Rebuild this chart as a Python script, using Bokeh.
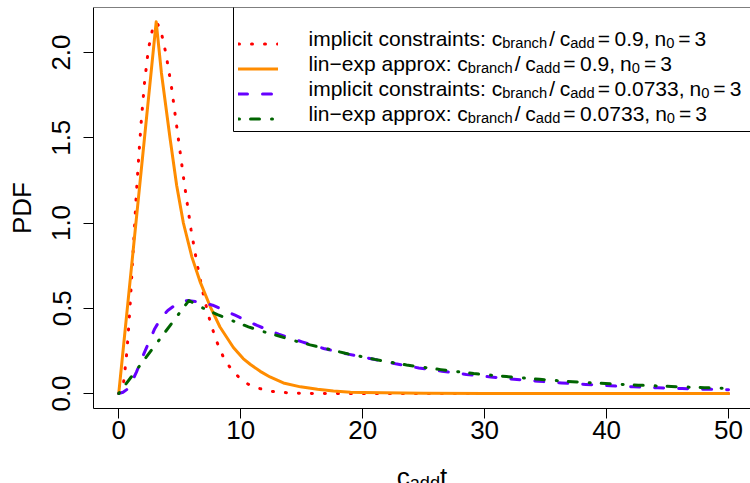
from bokeh.plotting import figure
from bokeh.layouts import column
from bokeh.models import (Range1d, FixedTicker, Label, Legend, LegendItem, Span,
                          BoxAnnotation)
from bokeh.embed import file_html
from bokeh.resources import INLINE

# ---------------- data ----------------
# implicit constraints, c_branch/c_add = 0.9 (red dotted)
x_red = [0, 0.2, 0.39, 0.61, 0.77, 0.96, 1.12, 1.29, 1.45, 1.64, 1.86, 2.11, 2.43, 2.84,
         3.1, 3.42, 3.85, 4.32, 4.84, 5.36, 5.93, 6.45, 7.0, 7.5, 8.0, 8.6, 9.2, 9.85,
         10.6, 11.55, 12.5, 13.5, 14.5, 16, 18, 30, 40, 50]
y_red = [0, 0.02, 0.06, 0.2, 0.34, 0.55, 0.76, 0.97, 1.18, 1.39, 1.61, 1.82, 2.02, 2.16,
         2.175, 2.14, 2.0, 1.8, 1.52, 1.24, 0.96, 0.75, 0.56, 0.42, 0.31, 0.21, 0.145, 0.095,
         0.055, 0.029, 0.013, 0.006, 0.002, 0.0005, 0, 0, 0, 0]
# lin-exp approx, c_branch/c_add = 0.9 (orange solid)
x_orange = [0, 3.07, 3.5, 4.2, 4.75, 5.3, 6.0, 6.7, 7.5, 8.3, 9.4, 10.2, 10.8, 11.6, 12.4,
            13.5, 14.9, 16.3, 17.6, 19.0, 20, 25, 30, 40, 50]
y_orange = [0, 2.18, 1.88, 1.50, 1.22, 1.0, 0.80, 0.65, 0.51, 0.39, 0.27, 0.205, 0.17, 0.13,
            0.097, 0.062, 0.039, 0.025, 0.015, 0.008, 0.006, 0.001, 0, 0, 0]
# implicit constraints, c_branch/c_add = 0.0733 (purple dashed)
x_purple = [0, 0.35, 0.7, 1.05, 1.45, 2.1, 2.95, 3.5, 4.02, 4.8, 5.6, 6.5, 7.7, 9.54, 11.34,
            13.11, 15.03, 16.8, 18.8, 20.9, 22.7, 24.6, 26.5, 28.5, 30.5, 32.4, 34.4, 36.3,
            38.3, 40.3, 42.2, 44.2, 46.2, 48.1, 50]
y_purple = [0, 0.007, 0.025, 0.065, 0.125, 0.24, 0.38, 0.445, 0.487, 0.527, 0.545, 0.538,
            0.518, 0.459, 0.399, 0.348, 0.303, 0.264, 0.231, 0.201, 0.174, 0.150, 0.131,
            0.112, 0.097, 0.084, 0.072, 0.062, 0.053, 0.045, 0.039, 0.033, 0.029, 0.025, 0.022]
# lin-exp approx, c_branch/c_add = 0.0733 (green dot-dash)
x_green = [0, 5.75, 6.89, 8.09, 9.35, 10.63, 11.89, 13.2, 14.48, 15.7, 18.58, 21.0, 23.6,
           26.4, 29.1, 31.8, 34.5, 37.2, 39.9, 42.6, 45.3, 48.0, 50]
y_green = [0, 0.545, 0.502, 0.463, 0.426, 0.391, 0.362, 0.336, 0.308, 0.285, 0.236, 0.200,
           0.167, 0.140, 0.117, 0.099, 0.083, 0.069, 0.058, 0.049, 0.041, 0.034, 0.030]

legend_prefixes = ["implicit constraints: ", "lin\u2212exp approx: ",
                   "implicit constraints: ", "lin\u2212exp approx: "]
legend_ratios = ["0.9", "0.9", "0.0733", "0.0733"]
legend_n0 = ["3", "3", "3", "3"]

x_ticks = [0, 10, 20, 30, 40, 50]
x_tick_labels = ["0", "10", "20", "30", "40", "50"]
y_ticks = [0.0, 0.5, 1.0, 1.5, 2.0]
y_tick_labels = ["0.0", "0.5", "1.0", "1.5", "2.0"]
y_label = "PDF"
x_label_parts = [("c", "n"), ("add", "s"), ("t", "n")]

# ---------------- layout / style ----------------
FONT = "Liberation Sans"
W, H = 750, 483
MAIN_H = 455                      # main figure; x-axis title strip below it
LEFT, TOP = 93, 7
FRAME_BOTTOM = 408
X_RANGE = (-2.07, 51.8)
Y_RANGE = (-0.088, 2.264)
SX = (W - LEFT) / (X_RANGE[1] - X_RANGE[0])           # px per x unit
SY = (FRAME_BOTTOM - TOP) / (Y_RANGE[1] - Y_RANGE[0])  # px per y unit

p = figure(width=W, height=MAIN_H, output_backend="svg", toolbar_location=None,
           x_range=Range1d(*X_RANGE), y_range=Range1d(*Y_RANGE),
           min_border_left=LEFT, min_border_right=0, min_border_top=TOP,
           min_border_bottom=MAIN_H - FRAME_BOTTOM,
           background_fill_alpha=0, border_fill_alpha=0)
p.outline_line_color = None
p.grid.visible = False

xa = p.xaxis[0]
xa.ticker = FixedTicker(ticks=x_ticks)
xa.major_label_overrides = {t: l for t, l in zip(x_ticks, x_tick_labels)}
ya = p.yaxis[0]
ya.ticker = FixedTicker(ticks=y_ticks)
ya.major_label_overrides = {t: l for t, l in zip(y_ticks, y_tick_labels)}
for ax in (xa, ya):
    ax.axis_line_color = "black"
    ax.axis_line_width = 1
    ax.major_tick_line_color = "black"
    ax.major_tick_out = 10
    ax.major_tick_in = 0
    ax.minor_tick_line_color = None
    ax.major_label_text_font = FONT
    ax.major_label_text_font_size = "26px"
    ax.major_label_text_color = "black"
xa.major_label_standoff = 2
ya.major_label_standoff = 13
ya.major_label_orientation = "vertical"
ya.axis_label = y_label
ya.axis_label_text_font = FONT
ya.axis_label_text_font_size = "26px"
ya.axis_label_text_font_style = "normal"
ya.axis_label_text_color = "black"
ya.axis_label_standoff = 13

p.add_layout(Span(location=Y_RANGE[1], dimension="width", line_color="black", line_width=1))

r_red = p.line(x_red, y_red, line_color="#FF0000", line_width=3, line_dash="1 12",
               line_cap="round", line_join="round")
r_orange = p.line(x_orange, y_orange, line_color="#FF8C00", line_width=3,
                  line_cap="round", line_join="round")
r_purple = p.line(x_purple, y_purple, line_color="#6600FF", line_width=3, line_dash="9 15",
                  line_cap="round", line_join="round")
r_green = p.line(x_green, y_green, line_color="#006400", line_width=3,
                 line_dash="1 11 9 12", line_cap="round", line_join="round")

# legend frame (box from x=233px, bottom at y=131px; top/right run past the frame edge)
p.add_layout(BoxAnnotation(left=X_RANGE[0] + (233 - LEFT) / SX,
                           bottom=Y_RANGE[0] + (FRAME_BOTTOM - 131) / SY,
                           right=X_RANGE[1] + 1, top=Y_RANGE[1] + 0.1,
                           fill_alpha=0, line_color="black", line_width=1, line_alpha=1))

legend = Legend(items=[LegendItem(label=" ", renderers=[r]) for r in
                       (r_red, r_orange, r_purple, r_green)],
                location=(145, 277), padding=12, spacing=0, margin=0,
                glyph_width=40, glyph_height=25, label_height=25, label_width=420,
                label_standoff=18, label_text_font_size="8px",
                border_line_color=None, background_fill_alpha=0)
p.add_layout(legend)

# ---------------- rich text (subscripts) ----------------
ADV = {" ": 278, "\u2212": 584, "-": 333, ".": 278, ",": 278, ":": 278, "/": 278, "=": 584,
       "a": 556, "b": 556, "c": 500, "d": 556, "e": 556, "f": 278, "g": 556, "h": 556,
       "i": 222, "j": 222, "k": 500, "l": 222, "m": 833, "n": 556, "o": 556, "p": 556,
       "q": 556, "r": 333, "s": 500, "t": 278, "u": 556, "v": 500, "w": 722, "x": 500,
       "y": 500, "z": 500, "P": 667, "D": 722, "F": 611}
SUB_SCALE, SUB_DROP = 0.7, 0.22


def adv(s, size):
    return sum(ADV.get(ch, 556) for ch in s) / 1000.0 * size


def layout_parts(parts, size):
    """Return (text, x, dy, font size) for each piece, x relative to the start."""
    out, x = [], 0.0
    for txt, kind in parts:
        if kind == "gap":
            x += txt
            continue
        fs = size if kind == "n" else size * SUB_SCALE
        dy = 0 if kind == "n" else size * SUB_DROP
        out.append((txt, x, dy, fs))
        x += adv(txt, fs)
    return out, x


LEG_SIZE = 21
for i, (pre, ratio, n0) in enumerate(zip(legend_prefixes, legend_ratios, legend_n0)):
    parts = [(pre, "n"), ("c", "n"), ("branch", "s"), (2, "gap"), ("/", "n"), (4.7, "gap"),
             ("c", "n"), ("add", "s"), (3, "gap"), ("=", "n"), (4.5, "gap"),
             (ratio + ",", "n"), (5, "gap"), ("n", "n"), ("0", "s"), (4, "gap"), ("=", "n"),
             (4, "gap"), (n0, "n")]
    pieces, _ = layout_parts(parts, LEG_SIZE)
    baseline = 38.2 + 25 * i
    for txt, x, dy, fs in pieces:
        p.add_layout(Label(x=X_RANGE[0], y=Y_RANGE[0], x_offset=308 + x - LEFT,
                           y_offset=FRAME_BOTTOM - (baseline + dy), text=txt.rstrip(),
                           text_font=FONT, text_font_size=f"{fs:.1f}px",
                           text_color="black", text_align="left",
                           text_baseline="alphabetic", level="overlay"))

# ---------------- x-axis title strip (c_add t) ----------------
# strip frame starts at the same left edge as the main frame; x data = page pixels,
# y data = pixels above the strip bottom.  No title, so the frame fills the strip.
STRIP_H = H - MAIN_H
q = figure(width=W, height=STRIP_H, output_backend="svg", toolbar_location=None,
           title=None, x_range=Range1d(LEFT, W), y_range=Range1d(0, STRIP_H),
           x_axis_location=None, y_axis_location=None,
           min_border_left=LEFT, min_border_right=0, min_border_top=0, min_border_bottom=0,
           background_fill_alpha=0, border_fill_alpha=0)
q.outline_line_color = None
q.grid.visible = False

XL_SIZE = 26
pieces, xw = layout_parts(x_label_parts, XL_SIZE)
x0 = 421.5 - xw / 2
base_y = H - 476.7            # baseline height above the strip bottom
for txt, x, dy, fs in pieces:
    q.add_layout(Label(x=x0 + x, y=base_y - dy, text=txt, text_font=FONT,
                       text_font_size=f"{fs:.1f}px", text_color="black",
                       text_align="left", text_baseline="alphabetic", level="overlay"))

layout = column(p, q, spacing=0)
open("out.html", "w").write(file_html(layout, INLINE))
